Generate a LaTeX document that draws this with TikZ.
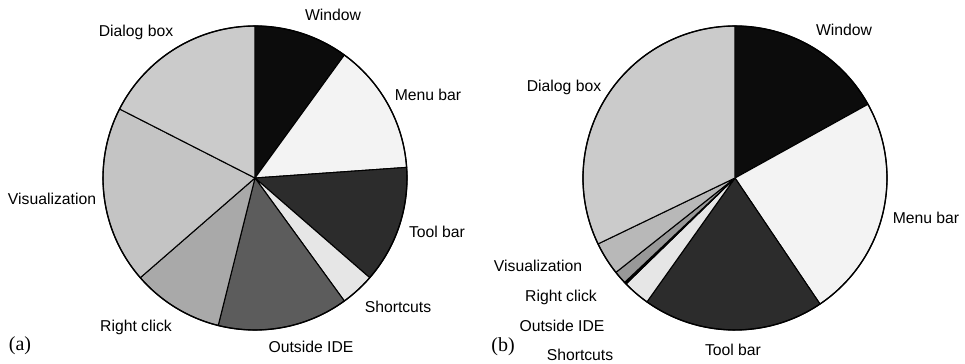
\documentclass[tikz,border=0pt]{standalone}
\usepackage{fontspec}
\setmainfont{Liberation Serif}
\newfontfamily\labfont{Liberation Sans}
\usepackage{xcolor}
\usepackage{tikz}
\definecolor{winfill}{HTML}{0C0C0C}
\definecolor{menufill}{HTML}{F3F3F3}
\definecolor{toolfill}{HTML}{2C2C2C}
\definecolor{shortfill}{HTML}{E6E6E6}
\definecolor{outfill}{HTML}{5C5C5C}
\definecolor{rightfill}{HTML}{A9A9A9}
\definecolor{visfill}{HTML}{C4C4C4}
\definecolor{dialfill}{HTML}{CBCBCB}
\tikzset{
  lab/.style={font=\labfont\fontsize{11.8}{13}\selectfont, inner sep=0pt},
  tag/.style={font=\fontsize{15}{17}\selectfont, inner sep=0pt},
  wedge/.style={draw=black, line width=0.8pt, line join=round},
  rim/.style={draw=black, line width=1pt}
}

\begin{document}
\begin{tikzpicture}[x=0.75pt, y=0.75pt]
\useasboundingbox (0,0) rectangle (965,364);

% pie (a)
\begin{scope}[shift={(255,186)}]
\filldraw[wedge, fill=winfill]   (0,0) -- (90:152)   arc[start angle=90,   end angle=54,   radius=152] -- cycle;
\filldraw[wedge, fill=menufill]  (0,0) -- (54:152)   arc[start angle=54,   end angle=4,    radius=152] -- cycle;
\filldraw[wedge, fill=toolfill]  (0,0) -- (4:152)    arc[start angle=4,    end angle=-41,  radius=152] -- cycle;
\filldraw[wedge, fill=shortfill] (0,0) -- (-41:152)  arc[start angle=-41,  end angle=-54,  radius=152] -- cycle;
\filldraw[wedge, fill=outfill]   (0,0) -- (-54:152)  arc[start angle=-54,  end angle=-104, radius=152] -- cycle;
\filldraw[wedge, fill=rightfill] (0,0) -- (-104:152) arc[start angle=-104, end angle=-139, radius=152] -- cycle;
\filldraw[wedge, fill=visfill]   (0,0) -- (-139:152) arc[start angle=-139, end angle=-207, radius=152] -- cycle;
\filldraw[wedge, fill=dialfill]  (0,0) -- (153:152)  arc[start angle=153,  end angle=90,   radius=152] -- cycle;
\draw[rim] (0,0) circle[radius=152];
\end{scope}
\node[lab] (aWin)   at (333,349) {Window};
\node[lab] (aDial)  at (136,332) {Dialog box};
\node[lab] (aMenu)  at (428,269) {Menu bar};
\node[lab] (aVis)   at (52,165)  {Visualization};
\node[lab] (aTool)  at (437,132) {Tool bar};
\node[lab] (aShort) at (398,57)  {Shortcuts};
\node[lab] (aRight) at (136,37)  {Right click};
\node[lab] (aOut)   at (311,17)  {Outside IDE};
\node[tag] (aTag)   at (20,18)   {(a)};

% pie (b)
\begin{scope}[shift={(735,186)}]
\filldraw[wedge, fill=winfill]   (0,0) -- (90:152)     arc[start angle=90,     end angle=29,     radius=152] -- cycle;
\filldraw[wedge, fill=menufill]  (0,0) -- (29:152)     arc[start angle=29,     end angle=-56,    radius=152] -- cycle;
\filldraw[wedge, fill=toolfill]  (0,0) -- (-56:152)    arc[start angle=-56,    end angle=-125.4, radius=152] -- cycle;
\filldraw[wedge, fill=shortfill] (0,0) -- (-125.4:152) arc[start angle=-125.4, end angle=-135.8, radius=152] -- cycle;
\filldraw[wedge, fill=black]     (0,0) -- (-135.8:152) arc[start angle=-135.8, end angle=-136.6, radius=152] -- cycle;
\filldraw[wedge, fill=rightfill!90!black] (0,0) -- (-136.6:152) arc[start angle=-136.6, end angle=-141.6, radius=152] -- cycle;
\filldraw[wedge, fill=visfill!94!black]   (0,0) -- (-141.6:152) arc[start angle=-141.6, end angle=-154.3, radius=152] -- cycle;
\filldraw[wedge, fill=dialfill]  (0,0) -- (205.7:152)  arc[start angle=205.7,  end angle=90,     radius=152] -- cycle;
\draw[rim] (0,0) circle[radius=152];
\end{scope}
\node[lab] (bWin)   at (844,334) {Window};
\node[lab] (bDial)  at (564,277) {Dialog box};
\node[lab] (bMenu)  at (926,146) {Menu bar};
\node[lab] (bVis)   at (538,98)  {Visualization};
\node[lab] (bRight) at (561,67)  {Right click};
\node[lab] (bOut)   at (562,38)  {Outside IDE};
\node[lab] (bShort) at (580,9)   {Shortcuts};
\node[lab] (bTool)  at (733,14)  {Tool bar};
\node[tag] (bTag)   at (503,17)  {(b)};
\end{tikzpicture}
\end{document}
